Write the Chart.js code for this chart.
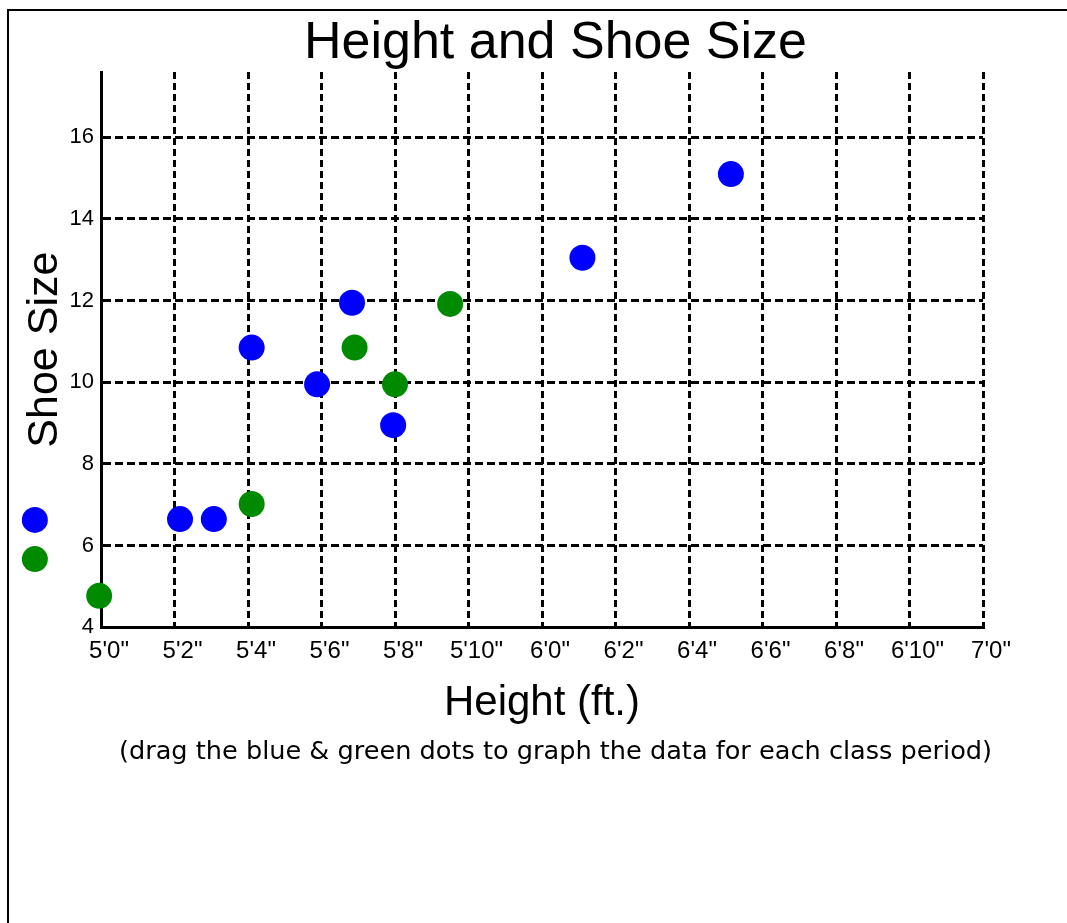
<!DOCTYPE html>
<html>
<head>
<meta charset="utf-8">
<script src="https://cdn.jsdelivr.net/npm/chart.js@4.4.0/dist/chart.umd.min.js"></script>
<style>
  html, body { margin: 0; padding: 0; background: #ffffff; }
  #wrap { position: absolute; left: 0; top: 0; width: 1067px; height: 923px; }
  #frame { position: absolute; left: 7px; top: 9px; right: 0; bottom: 0;
           border-top: 2px solid #000; border-left: 2px solid #000; pointer-events: none; }
</style>
</head>
<body>
<div id="wrap"><canvas id="c"></canvas></div>
<div id="frame"></div>
<script>
// Heights in inches, shoe sizes
const blueHeights = [62.15, 63.07, 64.1, 65.88, 66.83, 67.95, 73.1, 77.14];
const blueShoes   = [6.65, 6.65, 10.85, 9.95, 11.95, 8.95, 13.05, 15.1];
const greenHeights = [59.95, 64.1, 66.9, 68.0, 69.5];
const greenShoes   = [4.77, 7.02, 10.85, 9.95, 11.92];
// draggable source dots (left of the plot)
const paletteHeights = [58.2, 58.2];
const paletteShoes   = [6.63, 5.67];
const xTickLabels = ['5\'0"','5\'2"','5\'4"','5\'6"','5\'8"','5\'10"','6\'0"','6\'2"','6\'4"','6\'6"','6\'8"','6\'10"','7\'0"'];
const yTickValues = [4, 6, 8, 10, 12, 14, 16];

const BLUE = '#0000ff';
const GREEN = '#008a00';
const FONT = '"Liberation Sans", Arial, sans-serif';

function pts(xs, ys) { return xs.map((x, i) => ({x: x, y: ys[i]})); }

// The source dots sit left of the plot area; draw those library point elements without area culling.
const paletteDraw = {
  id: 'paletteDraw',
  afterDatasetsDraw(chart) {
    chart.data.datasets.forEach((ds, i) => {
      if (!ds.isPalette) return;
      const meta = chart.getDatasetMeta(i);
      meta.data.forEach(el => el.draw(chart.ctx));
    });
  }
};

new Chart(document.getElementById('c'), {
  type: 'scatter',
  plugins: [paletteDraw],
  data: {
    datasets: [
      { label: 'blue', data: pts(blueHeights, blueShoes), backgroundColor: BLUE, borderWidth: 0, pointRadius: 13, clip: false },
      { label: 'green', data: pts(greenHeights, greenShoes), backgroundColor: GREEN, borderWidth: 0, pointRadius: 13, clip: false },
      { label: 'blue source', isPalette: true, data: [{x: paletteHeights[0], y: paletteShoes[0]}], backgroundColor: BLUE, borderWidth: 0, pointRadius: 13, clip: false },
      { label: 'green source', isPalette: true, data: [{x: paletteHeights[1], y: paletteShoes[1]}], backgroundColor: GREEN, borderWidth: 0, pointRadius: 13, clip: false }
    ]
  },
  options: {
    responsive: true,
    maintainAspectRatio: false,
    animation: false,
    events: [],
    layout: { padding: { left: 44, right: 0, top: 0, bottom: 0 } },
    plugins: {
      legend: { display: false },
      tooltip: { enabled: false },
      title: {
        display: true, text: 'Height and Shoe Size', color: '#000',
        font: { family: FONT, size: 52, weight: 'normal', lineHeight: 1.2 },
        padding: { top: 12, bottom: -2.4 }
      },
      subtitle: {
        display: true, position: 'bottom',
        text: '(drag the blue & green dots to graph the data for each class period)',
        color: '#000',
        font: { family: '"DejaVu Sans", Verdana, sans-serif', size: 25.6, weight: 'normal', lineHeight: 1.2 },
        padding: { top: 10, bottom: 155 }
      }
    },
    scales: {
      x: {
        type: 'linear', position: 'bottom', min: 60, max: 84,
        afterFit: (s) => { s.height = 100; },
        ticks: {
          stepSize: 2, autoSkip: false, maxRotation: 0, includeBounds: false,
          color: '#000', padding: 10, labelOffset: 8,
          font: { family: FONT, size: 24 },
          callback: (v, i) => xTickLabels[i]
        },
        grid: { color: '#000', lineWidth: 3, drawTicks: false },
        border: { display: true, color: '#000', width: 3, dash: [7, 4] },
        title: {
          display: true, text: 'Height (ft.)', color: '#000',
          font: { family: FONT, size: 42, lineHeight: 1.2 },
          padding: { top: 0, bottom: -1 }
        }
      },
      y: {
        type: 'linear', position: 'left', min: 4, max: 17.6,
        afterFit: (s) => { s.width = 57; },
        afterBuildTicks: (s) => { s.ticks = yTickValues.map(v => ({value: v})); },
        ticks: {
          color: '#000', padding: 7,
          font: { family: FONT, size: 22 }
        },
        grid: { color: '#000', lineWidth: 3, drawTicks: false },
        border: { display: true, color: '#000', width: 3, dash: [8, 4] },
        title: {
          display: true, text: 'Shoe Size', color: '#000',
          font: { family: FONT, size: 43, lineHeight: 1.2 },
          padding: { top: -25, bottom: 0 }
        }
      },
      yRight: {
        type: 'linear', position: 'right', display: true,
        afterFit: (s) => { s.width = 84; },
        ticks: { display: false },
        grid: { display: false, drawTicks: false },
        border: { display: false }
      }
    }
  }
});
</script>
</body>
</html>
